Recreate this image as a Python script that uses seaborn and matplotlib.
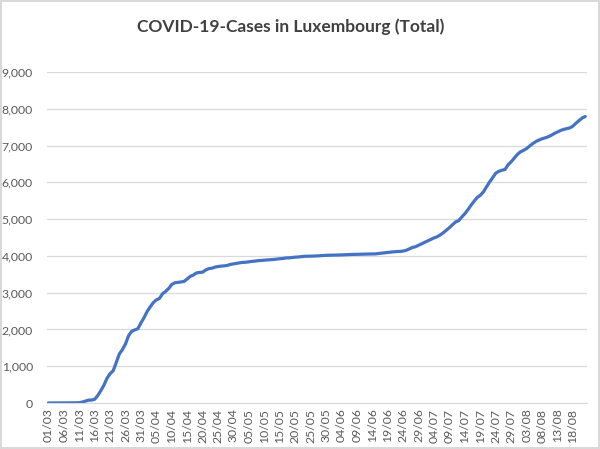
import matplotlib
matplotlib.use("Agg")
import matplotlib.pyplot as plt
import seaborn as sns
import pandas as pd

# cumulative cases, one value per day
cases_mar = [1, 1, 1, 1, 2, 3, 4, 5, 5, 7, 7, 26, 51, 77, 81, 100, 203, 335, 484, 670,
             798, 875, 1099, 1333, 1453, 1605, 1831, 1950, 1988, 2020, 2178]
cases_apr = [2319, 2487, 2612, 2729, 2804, 2843, 2970, 3034, 3115, 3223, 3270, 3281, 3292, 3307, 3373,
             3444, 3480, 3537, 3550, 3558, 3618, 3654, 3665, 3695, 3711, 3723, 3729, 3741, 3769, 3784]
cases_may = [3802, 3812, 3824, 3828, 3840, 3851, 3859, 3871, 3877, 3886, 3888, 3894, 3904, 3915, 3923, 3930,
             3945, 3947, 3958, 3966, 3971, 3980, 3990, 3990, 3993, 3995, 4001, 4008, 4012, 4016, 4018]
cases_jun = [4019, 4020, 4024, 4027, 4032, 4035, 4039, 4040, 4043, 4046, 4047, 4049, 4052, 4054, 4055,
             4065, 4074, 4085, 4094, 4104, 4111, 4119, 4121, 4133, 4153, 4190, 4230, 4250, 4290, 4330]
cases_jul = [4370, 4410, 4450, 4490, 4520, 4570, 4630, 4700, 4770, 4850, 4925, 4960, 5060, 5150, 5260, 5380,
             5490, 5590, 5650, 5740, 5880, 6010, 6130, 6250, 6300, 6330, 6350, 6480, 6560, 6660, 6760]
cases_aug = [6830, 6870, 6920, 6990, 7055, 7110, 7150, 7185, 7210, 7240, 7280, 7330, 7370, 7410, 7440,
             7460, 7480, 7530, 7610, 7680, 7750, 7790]

cases = cases_mar + cases_apr + cases_may + cases_jun + cases_jul + cases_aug
dates = pd.date_range("2020-03-01", periods=len(cases), freq="D")
y_ticks = list(range(0, 10000, 1000))

df = pd.DataFrame({"day": range(len(cases)), "cases": cases})

sns.set_style("white")
plt.rcParams["font.family"] = ["Lato", "DejaVu Sans"]

fig = plt.figure(figsize=(6, 4.49), dpi=100, facecolor="white",
                 edgecolor="#D9D9D9", linewidth=1.5)
ax = fig.add_axes([0.078, 0.1024, 0.9, 0.7372])

sns.lineplot(data=df, x="day", y="cases", ax=ax, color="#4472C4", linewidth=2.3)

# Excel-like axes
ax.set_xlim(-0.5, len(cases) - 0.5)
ax.set_ylim(0, 9000)
ax.set_yticks(y_ticks)
ax.set_yticklabels([f"{v:,}" for v in y_ticks])
tick_pos = list(range(0, len(cases), 5))
ax.set_xticks(tick_pos)
ax.set_xticklabels([dates[i].strftime("%d/%m") for i in tick_pos], rotation=90)
ax.grid(axis="y", color="#D9D9D9", linewidth=0.9)
ax.set_axisbelow(True)
for side in ["top", "right", "left"]:
    ax.spines[side].set_visible(False)
ax.spines["bottom"].set_color("#D9D9D9")
ax.tick_params(axis="both", length=0, labelsize=8.8, colors="#595959", pad=4)
ax.tick_params(axis="y", pad=10)
ax.set_xlabel("")
ax.set_ylabel("")

fig.text(0.485, 0.94, "COVID-19-Cases in Luxembourg (Total)", ha="center", va="center",
         fontsize=12.5, color="#404040", fontweight="bold")

fig.savefig("out.png", dpi=100, facecolor="white", edgecolor=fig.get_edgecolor())
